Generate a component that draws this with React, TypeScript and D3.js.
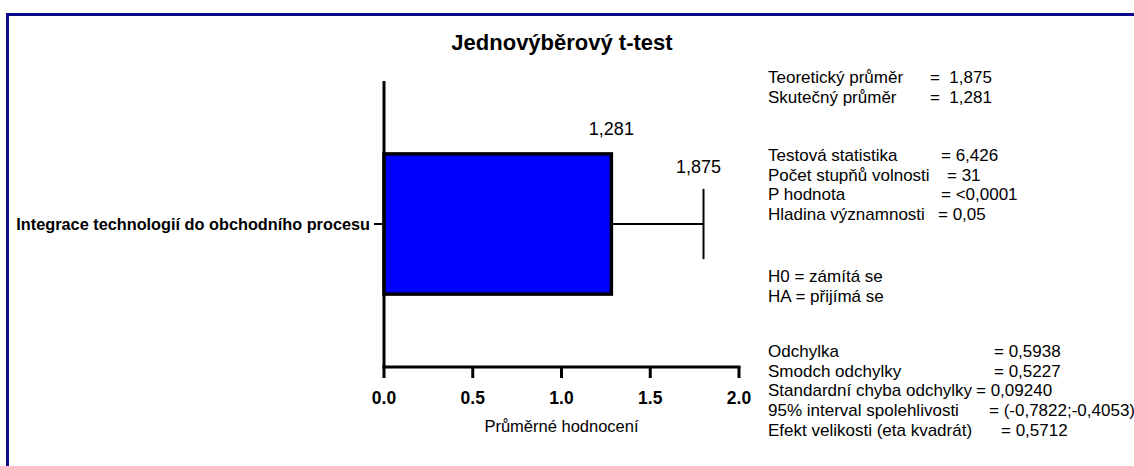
import { useEffect, useRef } from "react";
import * as d3 from "d3";

const categories = ["Integrace technologií do obchodního procesu"];
const means = [1.281];
const whiskerEnds = [1.8];
const meanLabels = ["1,281"];
const theoLabels = ["1,875"];
const xTicks = [0, 0.5, 1.0, 1.5, 2.0];

const statLabels = [
  ["Teoretický průměr", "Skutečný průměr"],
  ["Testová statistika", "Počet stupňů volnosti", "P hodnota", "Hladina významnosti"],
  ["H0 = zámítá se", "HA = přijímá se"],
  ["Odchylka", "Smodch odchylky", "Standardní chyba odchylky", "95% interval spolehlivosti", "Efekt velikosti (eta kvadrát)"],
];
const statValues = [
  ["=  1,875", "=  1,281"],
  ["= 6,426", "= 31", "= <0,0001", "= 0,05"],
  ["", ""],
  ["= 0,5938", "= 0,5227", "= 0,09240", "= (-0,7822;-0,4053)", "= 0,5712"],
];

const App = () => {
  const svgRef = useRef<SVGSVGElement>(null);

  useEffect(() => {
    if (!svgRef.current) return;
    const svg = d3.select(svgRef.current);
    svg.selectAll("*").remove();

    const width = 1134;
    const height = 466;
    const font = "'Liberation Sans', Arial, sans-serif";
    svg.attr("width", width).attr("height", height).style("font-family", font);

    // frame
    svg.append("rect")
      .attr("x", 7.5).attr("y", 14.5)
      .attr("width", 1140).attr("height", 470)
      .attr("fill", "white")
      .attr("stroke", "#0b0b8c")
      .attr("stroke-width", 3);

    svg.append("text")
      .attr("x", 562).attr("y", 50)
      .attr("text-anchor", "middle")
      .attr("font-size", 22).attr("font-weight", "bold")
      .text("Jednovýběrový t-test");

    const x = d3.scaleLinear().domain([0, 2]).range([384, 739]);
    const y = d3.scaleBand<string>().domain(categories).range([81, 367]).paddingInner(0).paddingOuter(0.52);
    const bottom = 367;

    // bars
    categories.forEach((c, i) => {
      const y0 = y(c)!;
      const bw = y.bandwidth();
      const cy = y0 + bw / 2;
      svg.append("line")
        .attr("x1", x(means[i])).attr("x2", x(whiskerEnds[i]))
        .attr("y1", cy).attr("y2", cy)
        .attr("stroke", "black").attr("stroke-width", 2);
      svg.append("line")
        .attr("x1", x(whiskerEnds[i])).attr("x2", x(whiskerEnds[i]))
        .attr("y1", cy - bw / 4).attr("y2", cy + bw / 4)
        .attr("stroke", "black").attr("stroke-width", 2);
      svg.append("rect")
        .attr("x", x(0)).attr("y", y0)
        .attr("width", x(means[i]) - x(0)).attr("height", bw)
        .attr("fill", "#0000ff")
        .attr("stroke", "black").attr("stroke-width", 3.5);
      svg.append("text")
        .attr("x", x(means[i])).attr("y", y0 - 19)
        .attr("text-anchor", "middle").attr("font-size", 18)
        .text(meanLabels[i]);
      svg.append("text")
        .attr("x", x(whiskerEnds[i]) - 5).attr("y", cy - 51)
        .attr("text-anchor", "middle").attr("font-size", 18)
        .text(theoLabels[i]);
    });

    // y axis
    const yAxis = svg.append("g");
    yAxis.append("line")
      .attr("x1", x(0)).attr("x2", x(0))
      .attr("y1", 81).attr("y2", bottom + 1.5)
      .attr("stroke", "black").attr("stroke-width", 3);
    categories.forEach((c) => {
      const cy = y(c)! + y.bandwidth() / 2;
      yAxis.append("line")
        .attr("x1", x(0) - 10).attr("x2", x(0))
        .attr("y1", cy).attr("y2", cy)
        .attr("stroke", "black").attr("stroke-width", 2);
      yAxis.append("text")
        .attr("x", x(0) - 14).attr("y", cy)
        .attr("dy", "0.35em")
        .attr("text-anchor", "end")
        .attr("font-size", 16.3).attr("font-weight", "bold")
        .text(c);
    });

    // x axis
    const xAxis = svg.append("g");
    xAxis.append("line")
      .attr("x1", x(0) - 1.5).attr("x2", x(2) + 1.5)
      .attr("y1", bottom).attr("y2", bottom)
      .attr("stroke", "black").attr("stroke-width", 3);
    xTicks.forEach((t) => {
      xAxis.append("line")
        .attr("x1", x(t)).attr("x2", x(t))
        .attr("y1", bottom).attr("y2", bottom + 11)
        .attr("stroke", "black").attr("stroke-width", 3);
      xAxis.append("text")
        .attr("x", x(t)).attr("y", bottom + 37)
        .attr("text-anchor", "middle")
        .attr("font-size", 17.5).attr("font-weight", "bold")
        .text(t.toFixed(1));
    });
    svg.append("text")
      .attr("x", (x(0) + x(2)) / 2).attr("y", 432)
      .attr("text-anchor", "middle").attr("font-size", 16.5)
      .text("Průměrné hodnocení");

    // statistics text
    const groupTop = [83, 161, 282, 357];
    const eqX = [
      [930, 930],
      [941, 947, 941, 938],
      [],
      [994, 994, 976, 989, 1001],
    ];
    const lineH = 19.7;
    statLabels.forEach((grp, gi) => {
      grp.forEach((lab, li) => {
        const ty = groupTop[gi] + li * lineH;
        svg.append("text")
          .attr("x", 768).attr("y", ty)
          .attr("font-size", 17)
          .text(lab);
        if (statValues[gi][li]) {
          svg.append("text")
            .attr("x", eqX[gi][li]).attr("y", ty)
            .attr("font-size", 17)
            .style("white-space", "pre")
            .text(statValues[gi][li]);
        }
      });
    });
  }, []);

  return (
    <div style={{ position: "absolute", left: 0, top: 0 }}>
      <svg ref={svgRef} style={{ display: "block" }} />
    </div>
  );
};

export default App;
